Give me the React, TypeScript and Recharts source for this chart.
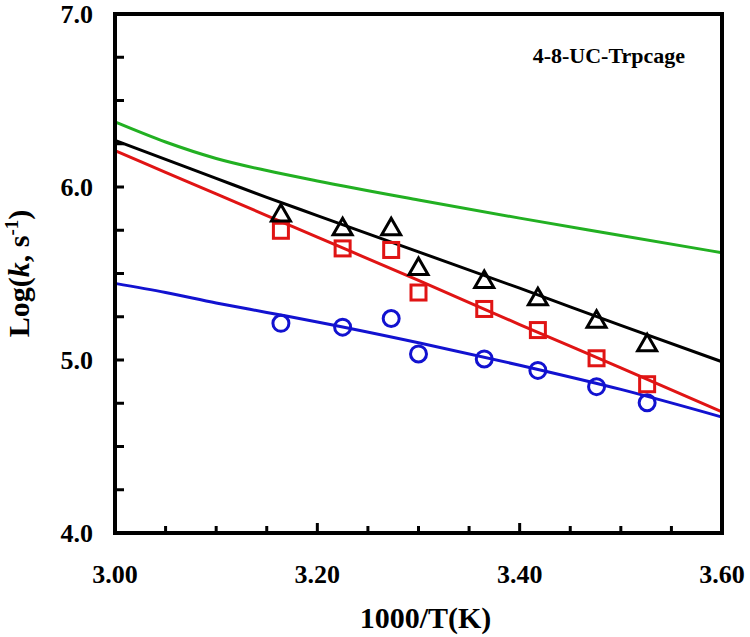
import React from 'react';
import { ComposedChart, Line, Scatter, XAxis, YAxis } from 'recharts';

// 1000/T for the measured temperatures
const tempX = [3.164, 3.225, 3.273, 3.3, 3.365, 3.418, 3.476, 3.526];
const triangleY = [5.85, 5.77, 5.77, 5.54, 5.466, 5.366, 5.235, 5.1];
const squareY = [5.747, 5.645, 5.636, 5.39, 5.295, 5.173, 5.01, 4.86];
const circleY = [5.212, 5.19, 5.24, 5.035, 5.006, 4.94, 4.846, 4.753];

// fitted curves
const fitX = [3.0, 3.05, 3.1, 3.15, 3.2, 3.3, 3.4, 3.5, 3.6];
const blackFit = [6.27, 6.16, 6.05, 5.94, 5.835, 5.625, 5.415, 5.2, 4.99];
const redFit = [6.21, 6.085, 5.96, 5.835, 5.71, 5.46, 5.205, 4.955, 4.7];
const blueFit = [5.443, 5.39, 5.33, 5.275, 5.22, 5.1, 4.97, 4.83, 4.67];
const greenFit = [6.376, 6.26, 6.165, 6.095, 6.035, 5.925, 5.82, 5.72, 5.62];

const xTicks = [3.0, 3.05, 3.1, 3.15, 3.2, 3.25, 3.3, 3.35, 3.4, 3.45, 3.5, 3.55, 3.6];
const yTicks = [4.0, 4.25, 4.5, 4.75, 5.0, 5.25, 5.5, 5.75, 6.0, 6.25, 6.5, 6.75, 7.0];
const xLabels = ['3.00', '3.20', '3.40', '3.60'];
const yLabels = ['4.0', '5.0', '6.0', '7.0'];

const FONT = '"Liberation Serif", "Times New Roman", serif';
const RED = '#e01414';
const BLUE = '#1212d0';
const GREEN = '#22b022';

const pts = (xs: number[], ys: number[]) => xs.map((x, i) => ({ x, y: ys[i] }));

const xLabelFor = (v: number) => xLabels.find((l) => Math.abs(parseFloat(l) - v) < 1e-6);
const yLabelFor = (v: number) => yLabels.find((l) => Math.abs(parseFloat(l) - v) < 1e-6);

const BottomTick = (props: any) => {
  const { x, y, payload } = props;
  const label = xLabelFor(payload.value);
  return (
    <g>
      <line x1={x} x2={x} y1={y} y2={y - (label ? 10 : 7)} stroke="#000" strokeWidth={3} />
      {label && (
        <text x={x} y={y + 50} textAnchor="middle" fontFamily={FONT} fontWeight="bold" fontSize={26} fill="#000">
          {label}
        </text>
      )}
    </g>
  );
};

const TopTick = (props: any) => {
  const { x, y, payload } = props;
  const major = !!xLabelFor(payload.value);
  return <line x1={x} x2={x} y1={y} y2={y + (major ? 10 : 7)} stroke="#000" strokeWidth={3} />;
};

const LeftTick = (props: any) => {
  const { x, y, payload } = props;
  const label = yLabelFor(payload.value);
  return (
    <g>
      <line x1={x} x2={x + 9} y1={y} y2={y} stroke="#000" strokeWidth={3} />
      {label && (
        <text x={x - 22} y={y + 9} textAnchor="end" fontFamily={FONT} fontWeight="bold" fontSize={26} fill="#000">
          {label}
        </text>
      )}
    </g>
  );
};

const RightTick = (props: any) => {
  const { x, y } = props;
  return <line x1={x} x2={x - 9} y1={y} y2={y} stroke="#000" strokeWidth={3} />;
};

const Triangle = (props: any) => {
  const { cx, cy } = props;
  return (
    <path
      d={`M${cx},${cy - 8.5} L${cx + 9.5},${cy + 8} L${cx - 9.5},${cy + 8} Z`}
      fill="none"
      stroke="#000"
      strokeWidth={3}
      strokeLinejoin="miter"
    />
  );
};

const Square = (props: any) => {
  const { cx, cy } = props;
  return <rect x={cx - 7.5} y={cy - 7.5} width={15} height={15} fill="none" stroke={RED} strokeWidth={3} />;
};

const Circle = (props: any) => {
  const { cx, cy } = props;
  return <circle cx={cx} cy={cy} r={8} fill="none" stroke={BLUE} strokeWidth={3} />;
};

const XTitle = (props: any) => {
  const vb = props.viewBox;
  return (
    <text x={vb.x + vb.width / 2 + 7} y={vb.y + 95} textAnchor="middle" fontFamily={FONT} fontWeight="bold" fontSize={30} fill="#000">
      1000/T(K)
    </text>
  );
};

const YTitle = (props: any) => {
  const vb = props.viewBox;
  const cy = vb.y + vb.height / 2;
  return (
    <text
      x={29}
      y={cy}
      transform={`rotate(-90, 29, ${cy})`}
      textAnchor="middle"
      fontFamily={FONT}
      fontWeight="bold"
      fontSize={30}
      fill="#000"
    >
      Log(<tspan fontStyle="italic">k</tspan>, s
      <tspan dy={-11} fontSize={19}>-1</tspan>
      <tspan dy={11}>)</tspan>
    </text>
  );
};

const axisLine = { stroke: '#000', strokeWidth: 4, strokeLinecap: 'square' as const };

export default function App() {
  return (
    <div style={{ position: 'absolute', left: 0, top: 0, width: 750, height: 637, background: '#fff' }}>
      <ComposedChart width={750} height={637} margin={{ top: 4, right: 18, bottom: 74, left: 55 }}>
        <XAxis
          xAxisId={0}
          type="number"
          dataKey="x"
          domain={[3.0, 3.6]}
          ticks={xTicks}
          interval={0}
          height={30}
          tickSize={0}
          tickMargin={0}
          axisLine={axisLine}
          tickLine={false}
          tick={<BottomTick />}
          label={{ content: XTitle }}
        />
        <XAxis
          xAxisId="top"
          orientation="top"
          type="number"
          dataKey="x"
          domain={[3.0, 3.6]}
          ticks={xTicks}
          interval={0}
          height={10}
          tickSize={0}
          tickMargin={0}
          axisLine={axisLine}
          tickLine={false}
          tick={<TopTick />}
        />
        <YAxis
          yAxisId={0}
          type="number"
          domain={[4.0, 7.0]}
          ticks={yTicks}
          interval={0}
          width={60}
          tickSize={0}
          tickMargin={0}
          axisLine={axisLine}
          tickLine={false}
          tick={<LeftTick />}
          label={{ content: YTitle }}
        />
        <YAxis
          yAxisId="right"
          orientation="right"
          type="number"
          domain={[4.0, 7.0]}
          ticks={yTicks}
          interval={0}
          width={10}
          tickSize={0}
          tickMargin={0}
          axisLine={axisLine}
          tickLine={false}
          tick={<RightTick />}
        />
        <Line data={pts(fitX, greenFit)} dataKey="y" type="monotone" stroke={GREEN} strokeWidth={3} dot={false} isAnimationActive={false} />
        <Line data={pts(fitX, blueFit)} dataKey="y" type="monotone" stroke={BLUE} strokeWidth={3} dot={false} isAnimationActive={false} />
        <Line data={pts(fitX, redFit)} dataKey="y" type="monotone" stroke={RED} strokeWidth={3} dot={false} isAnimationActive={false} />
        <Line data={pts(fitX, blackFit)} dataKey="y" type="monotone" stroke="#000" strokeWidth={3} dot={false} isAnimationActive={false} />
        <Scatter data={pts(tempX, circleY)} dataKey="y" shape={<Circle />} isAnimationActive={false} />
        <Scatter data={pts(tempX, squareY)} dataKey="y" shape={<Square />} isAnimationActive={false} />
        <Scatter data={pts(tempX, triangleY)} dataKey="y" shape={<Triangle />} isAnimationActive={false} />
      </ComposedChart>
      <div
        style={{
          position: 'absolute',
          left: 485,
          top: 45,
          width: 200,
          textAlign: 'right',
          fontFamily: FONT,
          fontWeight: 'bold',
          fontSize: 22,
          lineHeight: '22px',
          whiteSpace: 'nowrap',
        }}
      >
        4-8-UC-Trpcage
      </div>
    </div>
  );
}
